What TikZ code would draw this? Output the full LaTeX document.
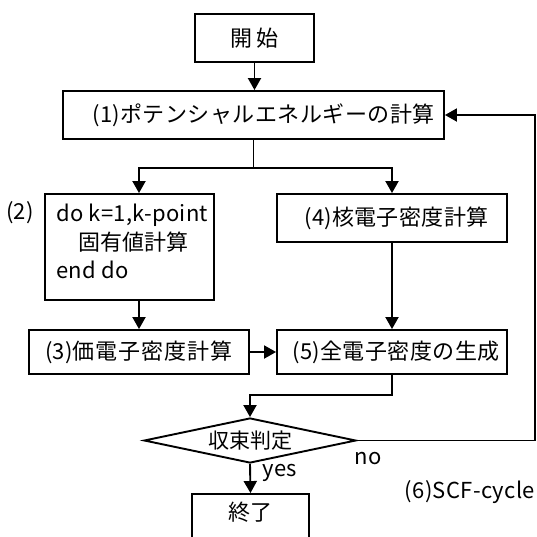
\documentclass[tikz,border=0pt]{standalone}
\usepackage{fontspec}
\setmainfont{Noto Sans CJK JP}[LetterSpace=1.5]
\newfontfamily\jfont{Noto Sans CJK JP}
\usetikzlibrary{arrows.meta,shapes.geometric}
\ExplSyntaxOn
\NewDocumentCommand\SP{mm}{{\jfont\tl_map_inline:nn {#2}{##1\hspace{#1}}\unskip}}
\ExplSyntaxOff
\tikzset{
  box/.style={draw, line width=1.9pt, rectangle, inner sep=0pt, font=\fontsize{22}{26}\selectfont},
  arr/.style={line width=1.9pt, -{Triangle[length=12pt,width=13pt]}},
  ln/.style={line width=1.9pt, line cap=rect},
  txt/.style={inner sep=0pt, font=\fontsize{22}{26}\selectfont},
}
\begin{document}
\begin{tikzpicture}[x=1pt,y=-1pt]
\clip (0,0) rectangle (537,536);
\fill[white] (0,0) rectangle (537,536);
% boxes
\node[box, minimum width=119pt, minimum height=48pt] (start) at (254.5,38) {\SP{5pt}{開始}};
\node[box, minimum width=381pt, minimum height=48pt] (b1) at (253.5,115) {\hspace*{20pt}(1)\SP{0.5pt}{ポテンシャルエネルギーの計算}};
\node[box, minimum width=169pt, minimum height=106pt] (b2) at (129.5,247) {};
\node[txt, anchor=west, align=left, font=\fontsize{22}{28.5}\selectfont] (b2t) at (56,241.5) {do k=1,k-point\\\hspace*{22pt}\SP{0pt}{固有値計算}\\end do};
\node[txt] (l2) at (20,213) {(2)};
\node[box, minimum width=230pt, minimum height=48pt] (b4) at (392,218) {\hspace*{9pt}(4)\SP{0.4pt}{核電子密度計算}};
\node[box, minimum width=220pt, minimum height=44pt] (b3) at (139,352) {(3)\SP{1pt}{価電子密度計算}};
\node[box, minimum width=230pt, minimum height=44pt] (b5) at (392,352) {\hspace*{8pt}(5)\SP{0.5pt}{全電子密度の生成}};
\node[draw, diamond, aspect=4.7, line width=1.9pt, minimum width=212pt, minimum height=45pt, inner sep=0pt, font=\fontsize{21}{24}\selectfont] (dia) at (250,440.5) {\SP{0pt}{収束判定}};
\node[box, minimum width=117pt, minimum height=60pt] (endb) at (250.5,524) {};
\node[txt] (endt) at (250.5,512) {\SP{0pt}{終了}};
\node[txt] (yes) at (280,473) {yes};
\node[txt] (no) at (368,459) {no};
\node[txt, anchor=east] (scf) at (535,492) {(6)SCF-cycle};
% connectors
\coordinate (jl) at (139,168);
\coordinate (jr) at (392,168);
\coordinate (rt) at (535,440.5);
\draw[arr] (start.south) -- (start.south |- b1.north);
\draw[ln] (b1.south) -- (b1.south |- jl);
\draw[ln] (jl) -- (jr);
\draw[arr] (jl) -- (jl |- b2.north);
\draw[arr] (jr) -- (jr |- b4.north);
\draw[arr] (jl |- b2.south) -- (jl |- b3.north);
\draw[arr] (b3.east) -- (b5.west);
\draw[arr] (b4.south) -- (b5.north);
\draw[arr] (b5.south) -- ++(0,20) -| (dia.north);
\draw[arr] (dia.east) -- (rt) |- (b1.east);
\draw[arr] (dia.south) -- (endb.north);
\end{tikzpicture}
\end{document}
